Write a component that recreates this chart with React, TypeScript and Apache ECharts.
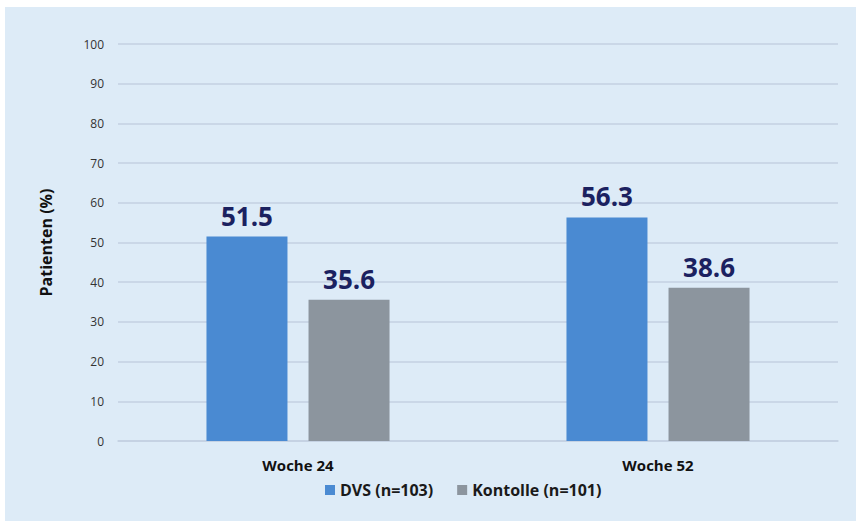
import React, { useEffect, useRef } from "react";
import * as echarts from "echarts";

const categories = ["Woche 24", "Woche 52"];
const dvsValues = [51.5, 56.3];
const kontrolleValues = [35.6, 38.6];
const seriesNames = ["DVS (n=103)", "Kontolle (n=101)"];
const yAxisName = "Patienten (%)";

const FONT = "'Open Sans', 'Noto Sans', sans-serif";

export default function App() {
  const ref = useRef<HTMLDivElement>(null);
  useEffect(() => {
    if (!ref.current) return;
    const chart = echarts.init(ref.current, null, { renderer: "svg" });
    const labelStyle = {
      show: true,
      position: "top",
      distance: 8,
      fontSize: 26,
      fontWeight: "bold",
      color: "#1B2160",
      fontFamily: FONT,
      formatter: (p: any) => p.value.toFixed(1),
    };
    chart.setOption({
      animation: false,
      backgroundColor: "#ffffff",
      textStyle: { fontFamily: FONT },
      graphic: [
        {
          type: "rect",
          z: -10,
          silent: true,
          shape: { x: 5, y: 7, width: 851, height: 514 },
          style: { fill: "#DDEBF7" },
        },
      ],
      grid: { left: 118, right: 18, top: 44, bottom: 81, containLabel: false },
      legend: {
        data: seriesNames,
        left: 320,
        top: 477,
        icon: "rect",
        itemWidth: 10,
        itemHeight: 10,
        itemGap: 24,
        textStyle: { fontSize: 16, fontWeight: "bold", color: "#1a1a1a", fontFamily: FONT },
      },
      xAxis: {
        type: "category",
        data: categories,
        axisLine: { show: true, lineStyle: { color: "#C3D1E2", width: 1.5 } },
        axisTick: { show: false },
        axisLabel: { fontSize: 15, fontWeight: "bold", color: "#111", margin: 16, fontFamily: FONT },
      },
      yAxis: {
        type: "value",
        min: 0,
        max: 100,
        interval: 10,
        name: yAxisName,
        nameLocation: "middle",
        nameGap: 64,
        nameRotate: 90,
        nameTextStyle: { fontSize: 16, fontWeight: "bold", color: "#111", fontFamily: FONT },
        axisLine: { show: false },
        axisTick: { show: false },
        axisLabel: { fontSize: 12, color: "#333", margin: 14, fontFamily: FONT },
        splitLine: { lineStyle: { color: "#C3D1E2", width: 1.5 } },
      },
      series: [
        {
          name: seriesNames[0],
          type: "bar",
          data: dvsValues,
          barWidth: 81,
          barGap: "26%",
          itemStyle: { color: "#4A8AD2" },
          label: labelStyle,
        },
        {
          name: seriesNames[1],
          type: "bar",
          data: kontrolleValues,
          barWidth: 81,
          itemStyle: { color: "#8C959E" },
          label: labelStyle,
        },
      ],
    });
    return () => chart.dispose();
  }, []);
  return (
    <div
      ref={ref}
      style={{ position: "fixed", left: 0, top: 0, width: 856, height: 522 }}
    />
  );
}
